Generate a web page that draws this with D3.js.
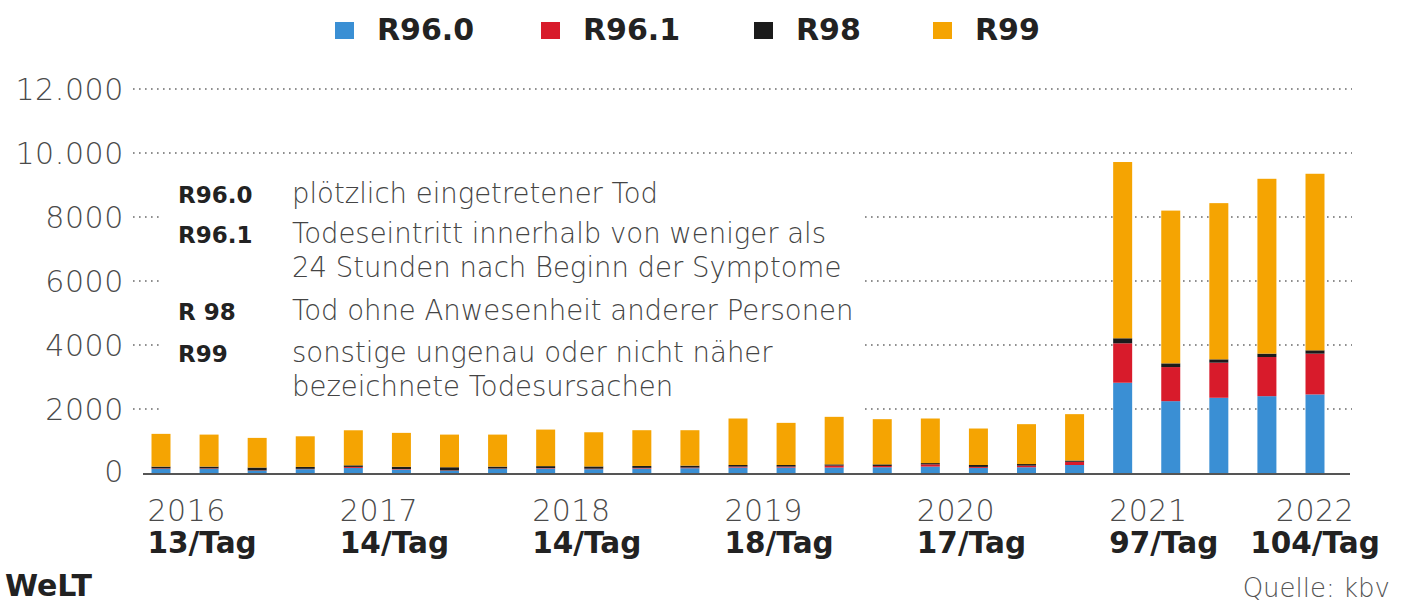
<!DOCTYPE html>
<html>
<head>
<meta charset="utf-8">
<script src="https://cdn.jsdelivr.net/npm/d3@7"></script>
<style>
  html, body { margin: 0; padding: 0; background: #fff; }
  svg { display: block; }
</style>
</head>
<body>
<svg id="chart" width="1404" height="604"></svg>
<script>
// ---- data ----
const quarters = [
  "2016 Q1","2016 Q2","2016 Q3","2016 Q4",
  "2017 Q1","2017 Q2","2017 Q3","2017 Q4",
  "2018 Q1","2018 Q2","2018 Q3","2018 Q4",
  "2019 Q1","2019 Q2","2019 Q3","2019 Q4",
  "2020 Q1","2020 Q2","2020 Q3","2020 Q4",
  "2021 Q1","2021 Q2","2021 Q3","2021 Q4",
  "2022 Q1"
];
const seriesKeys = ["R96.0", "R96.1", "R98", "R99"];
const r960 = [130,130,70,120, 160,110,70,130, 140,120,140,150, 170,170,170,180, 200,160,180,250, 2821,2245,2351,2401, 2455];
const r961 = [15,15,10,10, 30,15,10,10, 15,15,20,20, 30,30,60,40, 70,30,50,100, 1232,1065,1097,1223, 1275];
const r98  = [55,55,90,60, 50,70,100,60, 60,70,60,60, 50,50,40,50, 40,60,50,40, 157,116,104,106, 104];
const r99  = [1023,1000,927,957, 1095,1059,1020,1000, 1142,1068,1117,1107, 1453,1317,1485,1412, 1393,1140,1246,1449, 5508,4774,4881,5464, 5517];
const colors = ["#3a8fd4", "#d81b2b", "#1b1b1b", "#f5a402"];

const yearLabels = ["2016","2017","2018","2019","2020","2021","2022"];
const perDayLabels = ["13/Tag","14/Tag","14/Tag","18/Tag","17/Tag","97/Tag","104/Tag"];
const yearFirstQuarter = ["2016 Q1","2017 Q1","2018 Q1","2019 Q1","2020 Q1","2021 Q1","2022 Q1"];
const yTickValues = [0, 2000, 4000, 6000, 8000, 10000, 12000];
const yTickLabels = ["0", "2000", "4000", "6000", "8000", "10.000", "12.000"];

const noteCodes = ["R96.0", "R96.1", "", "R 98", "R99", ""];
const noteTexts = [
  "plötzlich eingetretener Tod",
  "Todeseintritt innerhalb von weniger als",
  "24 Stunden nach Beginn der Symptome",
  "Tod ohne Anwesenheit anderer Personen",
  "sonstige ungenau oder nicht näher",
  "bezeichnete Todesursachen"
];

// ---- build table ----
const table = quarters.map((q, i) => ({
  q, "R96.0": r960[i], "R96.1": r961[i], "R98": r98[i], "R99": r99[i]
}));
const stack = d3.stack().keys(seriesKeys)(table);

const svg = d3.select("#chart");
const FONT = "'DejaVu Sans', sans-serif";

const x = d3.scaleBand().domain(quarters).range([136.96, 1339.04])
  .paddingInner(0.605).paddingOuter(0.3025);
const y = d3.scaleLinear().domain([0, 12000]).range([473, 89]);

svg.append("rect").attr("width", 1404).attr("height", 604).attr("fill", "#fff");

// gridlines
svg.append("g").selectAll("line")
  .data(yTickValues.filter(v => v > 0))
  .join("line")
  .attr("x1", 133).attr("x2", 1352)
  .attr("y1", d => y(d)).attr("y2", d => y(d))
  .attr("stroke", "#8f8f8f").attr("stroke-width", 2)
  .attr("stroke-dasharray", "1.6,4.4");

// y axis labels
const yAxis = d3.axisLeft(y).tickValues(yTickValues)
  .tickFormat((d, i) => yTickLabels[i]).tickSize(0).tickPadding(0);
const yg = svg.append("g").attr("transform", "translate(124,0)").call(yAxis);
yg.select(".domain").remove();
yg.selectAll("text")
  .attr("font-family", FONT).attr("font-weight", 200)
  .attr("font-size", 30).attr("letter-spacing", 0.6)
  .attr("fill", "#4a4a4a").attr("dy", "0.36em");
yg.selectAll(".tick").filter(d => d === 0).select("text").attr("dy", "0.28em");

// white box behind annotation
svg.append("rect").attr("x", 160).attr("y", 170).attr("width", 705).attr("height", 246)
  .attr("fill", "#fff");

// bars
svg.append("g").selectAll("g")
  .data(stack).join("g")
  .attr("fill", (d, i) => colors[i])
  .selectAll("rect")
  .data(d => d).join("rect")
  .attr("x", d => x(d.data.q))
  .attr("width", x.bandwidth())
  .attr("y", d => y(d[1]))
  .attr("height", d => y(d[0]) - y(d[1]));

// baseline
svg.append("line").attr("x1", 143).attr("x2", 1350)
  .attr("y1", y(0) + 1).attr("y2", y(0) + 1)
  .attr("stroke", "#555").attr("stroke-width", 2);

// x labels
const xl = svg.append("g");
yearLabels.forEach((yr, i) => {
  const q = yearFirstQuarter[i];
  const last = i === yearLabels.length - 1;
  const xp = last ? x(q) + x.bandwidth() / 2 : x(q) - 4;
  const anchor = last ? "middle" : "start";
  xl.append("text").attr("x", xp).attr("y", 521)
    .attr("text-anchor", anchor)
    .attr("font-family", FONT).attr("font-weight", 200).attr("font-size", 30)
    .attr("letter-spacing", 0.5)
    .attr("fill", "#4a4a4a").text(yr);
  xl.append("text").attr("x", xp).attr("y", 553)
    .attr("text-anchor", anchor)
    .attr("font-family", FONT).attr("font-weight", "bold").attr("font-size", 29.5)
    .attr("fill", "#222").text(perDayLabels[i]);
});

// legend
const legX = [335, 541, 754, 933];
const lg = svg.append("g");
seriesKeys.forEach((k, i) => {
  lg.append("rect").attr("x", legX[i]).attr("y", 22).attr("width", 19).attr("height", 17)
    .attr("fill", colors[i]);
  lg.append("text").attr("x", legX[i] + 42).attr("y", 40)
    .attr("font-family", FONT).attr("font-weight", "bold").attr("font-size", 30)
    .attr("fill", "#222").text(k);
});

// annotation
const noteY = [203, 243, 277, 320, 362, 396];
const ng = svg.append("g");
noteTexts.forEach((t, i) => {
  if (noteCodes[i]) {
    ng.append("text").attr("x", 178).attr("y", noteY[i])
      .attr("font-family", FONT).attr("font-weight", "bold").attr("font-size", 23)
      .attr("fill", "#222").text(noteCodes[i]);
  }
  ng.append("text").attr("x", 292).attr("y", noteY[i])
    .attr("font-family", FONT).attr("font-weight", 200).attr("font-size", 27.5)
    .attr("fill", "#444").text(t);
});

// footer
svg.append("text").attr("x", 5).attr("y", 596)
  .attr("font-family", FONT).attr("font-weight", "bold").attr("font-size", 30)
  .attr("fill", "#222").text("WeLT");
svg.append("text").attr("x", 1390).attr("y", 597).attr("text-anchor", "end")
  .attr("font-family", FONT).attr("font-weight", 200).attr("font-size", 26)
  .attr("fill", "#555").text("Quelle: kbv");
</script>
</body>
</html>
